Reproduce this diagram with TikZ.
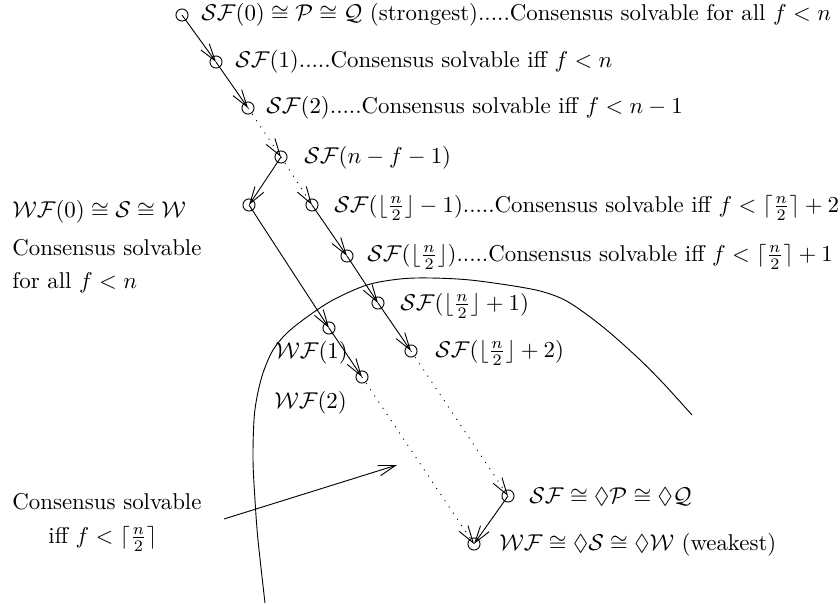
\documentclass[tikz,border=0pt]{standalone}
\usepackage{amssymb}
\usetikzlibrary{arrows.meta}
\begin{document}
\begin{tikzpicture}[x=0.4376pt,y=-0.4376pt,
  dotnode/.style={circle,draw,minimum size=5.3pt,inner sep=0pt},
  lbl/.style={anchor=west,inner sep=0pt},
  arr/.style={-{Straight Barb[length=7.5pt,width=4.6pt]}},
  dotline/.style={dash pattern=on 0.45pt off 2.8pt}]
\useasboundingbox (0,0) rectangle (840,605);
% circles
\node[dotnode] (c0) at (182,15) {};
\node[dotnode] (c1) at (216,62) {};
\node[dotnode] (c2) at (248,108) {};
\node[dotnode] (c3) at (281,157) {};
\node[dotnode] (w0) at (249,205) {};
\node[dotnode] (s4) at (312,205) {};
\node[dotnode] (s5) at (347,256) {};
\node[dotnode] (s6) at (378,303) {};
\node[dotnode] (w1) at (329,328) {};
\node[dotnode] (s7) at (411,351) {};
\node[dotnode] (w2) at (362,377) {};
\node[dotnode] (sw) at (508,496) {};
\node[dotnode] (ww) at (474,544) {};
% labels
\node[lbl] (t0) at (201,15) {$\mathcal{SF}(0)\cong\mathcal{P}\cong\mathcal{Q}$ (strongest).....Consensus solvable for all $f<n$};
\node[lbl] (t1) at (235,62) {$\mathcal{SF}(1)$.....Consensus solvable iff $f<n$};
\node[lbl] (t2) at (266,108) {$\mathcal{SF}(2)$.....Consensus solvable iff $f<n-1$};
\node[lbl] (t3) at (304,158) {$\mathcal{SF}(n-f-1)$};
\node[lbl] (t4) at (334,208) {$\mathcal{SF}(\lfloor\frac{n}{2}\rfloor-1)$.....Consensus solvable iff $f<\lceil\frac{n}{2}\rceil+2$};
\node[lbl] (t5) at (367,257) {$\mathcal{SF}(\lfloor\frac{n}{2}\rfloor)$.....Consensus solvable iff $f<\lceil\frac{n}{2}\rceil+1$};
\node[lbl] (t6) at (400,306) {$\mathcal{SF}(\lfloor\frac{n}{2}\rfloor+1)$};
\node[lbl] (t7) at (435,353) {$\mathcal{SF}(\lfloor\frac{n}{2}\rfloor+2)$};
\node[lbl] (u1) at (275,353) {$\mathcal{WF}(1)$};
\node[lbl] (u2) at (274,403) {$\mathcal{WF}(2)$};
\node[lbl] (tsw) at (529,497) {$\mathcal{SF}\cong\Diamond\mathcal{P}\cong\Diamond\mathcal{Q}$};
\node[lbl] (tww) at (499,545) {$\mathcal{WF}\cong\Diamond\mathcal{S}\cong\Diamond\mathcal{W}$ (weakest)};
\node[lbl] (l0) at (12,212) {$\mathcal{WF}(0)\cong\mathcal{S}\cong\mathcal{W}$};
\node[lbl] (l1) at (12,248) {Consensus solvable};
\node[lbl] (l2) at (12,283) {for all $f<n$};
\node[lbl] (b1) at (12,502) {Consensus solvable};
\node[lbl] (b2) at (48,539) {iff $f<\lceil\frac{n}{2}\rceil$};
% connectors
\draw[arr] (c0.center) -- (c1.center);
\draw[arr] (c1.center) -- (c2.center);
\draw[arr,dotline] (c2.center) -- (c3.center);
\draw[arr] (c3.center) -- (w0.center);
\draw[arr,dotline] (c3.center) -- (s4.center);
\draw[arr] (s4.center) -- (s5.center);
\draw[arr] (s5.center) -- (s6.center);
\draw[arr] (s6.center) -- (s7.center);
\draw[arr,dotline] (s7.center) -- (sw.center);
\draw[arr] (w0.center) -- (w1.center);
\draw[arr] (w1.center) -- (w2.center);
\draw[arr,dotline] (w2.center) -- (ww.center);
\draw[arr] (sw.center) -- (ww.center);
% region boundary
\draw plot[smooth,tension=0.55] coordinates {(265,603) (258,540) (255,500) (253,460) (254,420) (257,397) (263,373) (273,350) (287,333) (307,317) (333,300) (367,285) (400,279) (430,278) (470,280) (520,287) (547,293) (570,303) (603,327) (637,357) (663,383) (692,415)};
% pointer arrow
\coordinate (pa) at (224,519);
\coordinate (pb) at (397,465);
\draw[arr] (pa) -- (pb);
\end{tikzpicture}
\end{document}
